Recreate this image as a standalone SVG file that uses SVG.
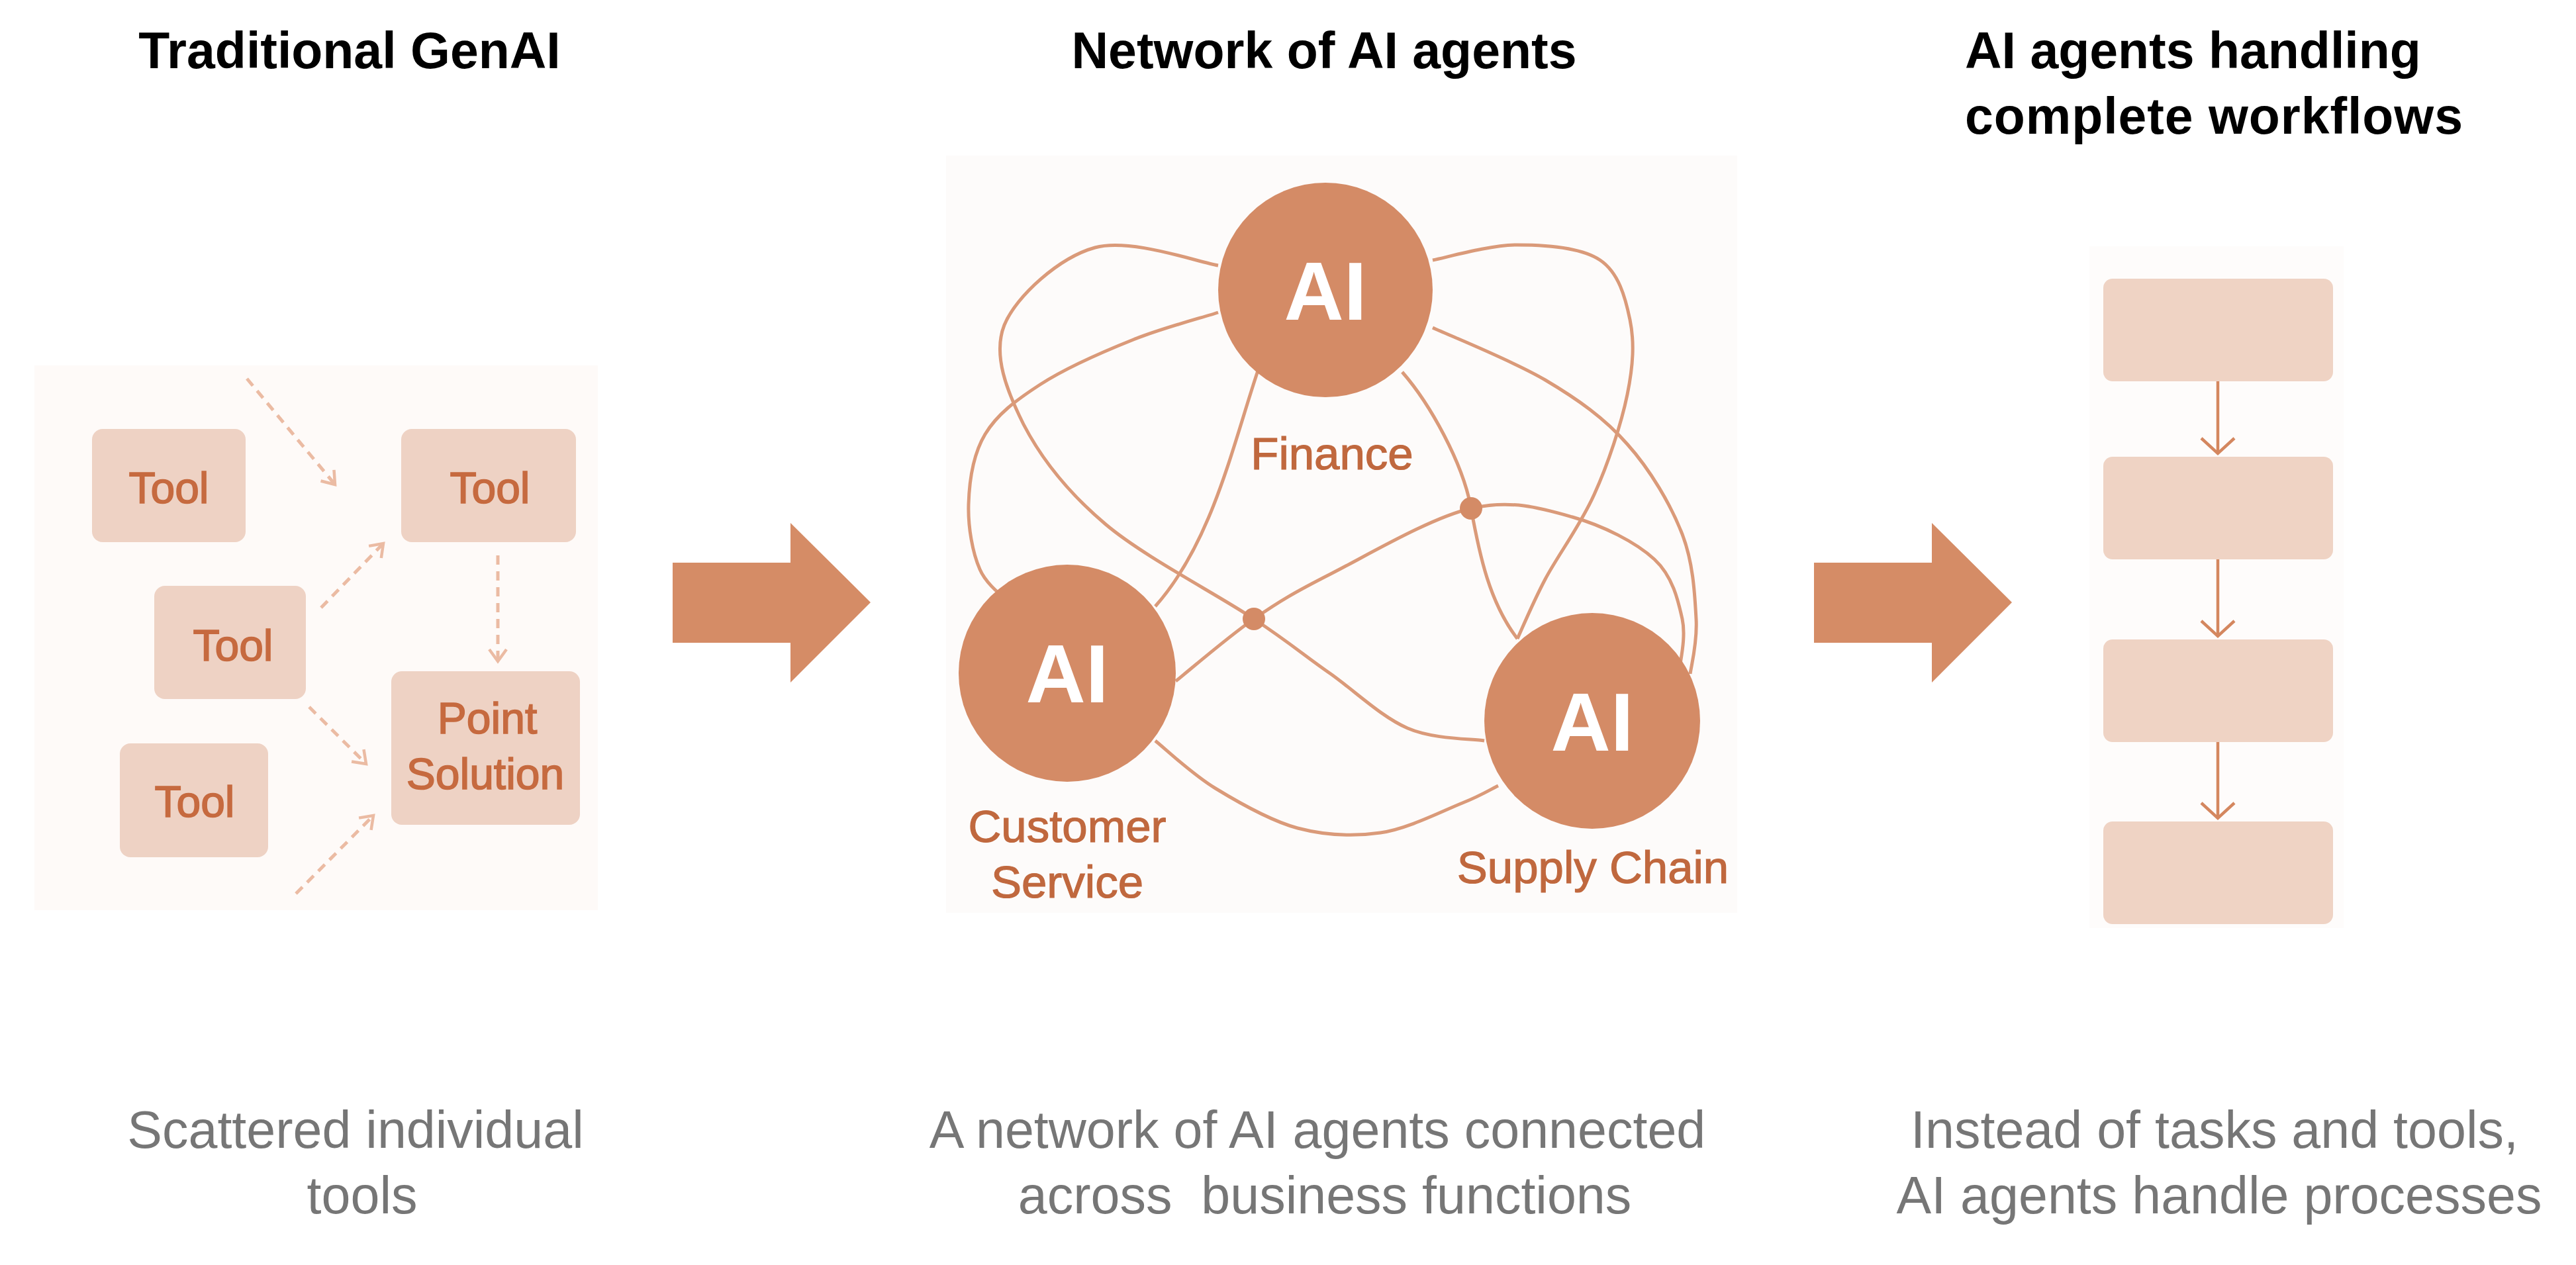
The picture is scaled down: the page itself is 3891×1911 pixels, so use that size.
<svg xmlns="http://www.w3.org/2000/svg" width="3891" height="1911" viewBox="0 0 3891 1911">
<style>
.title{font-family:"Liberation Sans",Arial,sans-serif;font-weight:bold;font-size:77px;fill:#000}
.caption{font-family:"Liberation Sans",Arial,sans-serif;font-size:79px;fill:#767676;text-anchor:middle}
.toolbox{fill:#eed2c4}
.tooltext{font-family:"Liberation Sans",Arial,sans-serif;font-size:66px;fill:#c66a3f;stroke:#c66a3f;stroke-width:1.6;text-anchor:middle}
.dash{fill:none;stroke:#ebbba3;stroke-width:5;stroke-dasharray:14 10}
.agent{fill:#d48b66}
.aitext{font-family:"Liberation Sans",Arial,sans-serif;font-weight:bold;font-size:125px;fill:#fff;text-anchor:middle}
.label{font-family:"Liberation Sans",Arial,sans-serif;font-size:69px;fill:#c0683e;stroke:#c0683e;stroke-width:1.2;text-anchor:middle}
.link{fill:none;stroke:#da9a79;stroke-width:5}
.bigarrow{fill:#d58c66}
.step{fill:#efd3c4}
.flow{fill:none;stroke:#d4875f;stroke-width:4.5}
</style>
<defs>
<marker id="dchev" viewBox="-24 -18 28 36" refX="0" refY="0" markerWidth="28" markerHeight="36" markerUnits="userSpaceOnUse" orient="auto">
<path d="M-18,-13 L0,0 L-18,13" fill="none" stroke="#ebbba3" stroke-width="4.5"/>
</marker>
<marker id="fchev" viewBox="-30 -30 34 60" refX="0" refY="0" markerWidth="34" markerHeight="60" markerUnits="userSpaceOnUse" orient="auto">
<path d="M-23,-25 L0,0 L-23,25" fill="none" stroke="#d4875f" stroke-width="4.5"/>
</marker>
</defs>
<rect width="3891" height="1911" fill="#fff"/>

<g id="titles">
<text class="title" x="528" y="103" text-anchor="middle">Traditional GenAI</text>
<text class="title" x="2000" y="103" text-anchor="middle">Network of AI agents</text>
<text class="title" x="2968" y="103">AI agents handling</text>
<text class="title" x="2968" y="202" textLength="752">complete workflows</text>
</g>

<g id="panel-traditional">
<rect x="52" y="552" width="851" height="823" fill="#fefaf8"/>
<g id="tool1"><rect class="toolbox" x="139" y="648" width="232" height="171" rx="16"/><text class="tooltext" x="255" y="760">Tool</text></g>
<g id="tool2"><rect class="toolbox" x="606" y="648" width="264" height="171" rx="16"/><text class="tooltext" x="740" y="760">Tool</text></g>
<g id="tool3"><rect class="toolbox" x="233" y="885" width="229" height="171" rx="16"/><text class="tooltext" x="352" y="998">Tool</text></g>
<g id="tool4"><rect class="toolbox" x="181" y="1123" width="224" height="172" rx="16"/><text class="tooltext" x="294" y="1234">Tool</text></g>
<g id="point-solution"><rect class="toolbox" x="591" y="1014" width="285" height="232" rx="16"/><text class="tooltext" x="736" y="1108">Point</text><text class="tooltext" x="733" y="1192">Solution</text></g>
<g id="dashed-connectors">
<line class="dash" x1="373" y1="572" x2="506" y2="732" marker-end="url(#dchev)"/>
<line class="dash" x1="485" y1="918" x2="579" y2="821" marker-end="url(#dchev)"/>
<line class="dash" x1="752" y1="839" x2="752" y2="999" marker-end="url(#dchev)"/>
<line class="dash" x1="467" y1="1068" x2="553" y2="1154" marker-end="url(#dchev)"/>
<line class="dash" x1="447" y1="1350" x2="564" y2="1232" marker-end="url(#dchev)"/>
</g>
</g>

<g id="big-arrows">
<path class="bigarrow" d="M1016,850 H1194 V790 L1315,910 L1194,1031 V971 H1016 Z"/>
<path class="bigarrow" d="M2740,850 H2918 V790 L3039,910 L2918,1031 V971 H2740 Z"/>
</g>

<g id="panel-network">
<rect x="1429" y="235" width="1195" height="1144" fill="#fdfbfa"/>
<g id="network-links">
<path class="link" d="M1840,401 C1809,396 1708,359 1654,374 C1600,389 1535,447 1517,491 C1499,536 1521,591 1546,641 C1572,691 1612,743 1670,792 C1728,841 1837,897 1894,935 C1951,973 1971,991 2010,1018 C2049,1046 2087,1083 2126,1100 C2165,1117 2223,1116 2242,1119"/>
<path class="link" d="M1840,472 C1819,479 1757,495 1712,513 C1667,531 1608,557 1571,581 C1534,605 1506,626 1488,656 C1470,686 1464,728 1463,762 C1462,796 1469,835 1480,860 C1491,886 1522,906 1530,915"/>
<path class="link" d="M1900,560 C1860,680 1830,820 1745,916"/>
<path class="link" d="M1776,1029 C1796,1013 1855,962 1894,935 C1933,908 1955,895 2010,867 C2065,839 2161,782 2222,768 C2283,754 2329,768 2375,781 C2421,794 2471,819 2499,845 C2527,871 2535,908 2541,935 C2547,963 2538,998 2537,1010"/>
<path class="link" d="M2118,562 C2160,610 2210,700 2222,768 C2235,840 2250,910 2292,965"/>
<path class="link" d="M2164,495 C2192,508 2285,545 2334,574 C2383,603 2424,632 2458,671 C2493,710 2524,763 2541,807 C2558,851 2560,900 2562,935 C2564,970 2555,1004 2553,1018"/>
<path class="link" d="M2164,393 C2185,389 2250,370 2292,370 C2334,370 2389,374 2417,393 C2445,412 2455,449 2462,483 C2469,517 2467,552 2458,596 C2449,640 2429,701 2408,747 C2387,794 2353,839 2334,875 C2315,911 2299,950 2292,965"/>
<path class="link" d="M1745,1119 C1760,1131 1800,1169 1836,1191 C1872,1213 1919,1240 1960,1251 C2002,1262 2044,1264 2085,1258 C2127,1252 2179,1225 2209,1213 C2239,1201 2254,1191 2263,1187"/>
<circle class="agent" cx="2222" cy="768" r="17"/>
<circle class="agent" cx="1894" cy="935" r="17"/>
</g>
<g id="agent-finance"><circle class="agent" cx="2002" cy="438" r="162"/><text class="aitext" x="2002" y="483">AI</text><text class="label" x="2012" y="709">Finance</text></g>
<g id="agent-customer"><circle class="agent" cx="1612" cy="1017" r="164"/><text class="aitext" x="1612" y="1061">AI</text><text class="label" x="1612" y="1272">Customer</text><text class="label" x="1612" y="1356">Service</text></g>
<g id="agent-supply"><circle class="agent" cx="2405" cy="1089" r="163"/><text class="aitext" x="2405" y="1134">AI</text><text class="label" x="2406" y="1334">Supply Chain</text></g>
</g>

<g id="panel-workflow">
<rect x="3156" y="372" width="384" height="1030" fill="#fefcfb"/>
<g id="step1"><rect class="step" x="3177" y="421" width="347" height="155" rx="14"/></g>
<g id="step2"><rect class="step" x="3177" y="690" width="347" height="155" rx="14"/></g>
<g id="step3"><rect class="step" x="3177" y="966" width="347" height="155" rx="14"/></g>
<g id="step4"><rect class="step" x="3177" y="1241" width="347" height="155" rx="14"/></g>
<g id="flow-connectors">
<line class="flow" x1="3350" y1="576" x2="3350" y2="685" marker-end="url(#fchev)"/>
<line class="flow" x1="3350" y1="845" x2="3350" y2="961" marker-end="url(#fchev)"/>
<line class="flow" x1="3350" y1="1121" x2="3350" y2="1236" marker-end="url(#fchev)"/>
</g>
</g>

<g id="captions">
<text class="caption" x="537" y="1734">Scattered individual</text>
<text class="caption" x="547" y="1833">tools</text>
<text class="caption" x="1990" y="1734">A network of AI agents connected</text>
<text class="caption" x="2001" y="1833" xml:space="preserve">across  business functions</text>
<text class="caption" x="3345" y="1734">Instead of tasks and tools,</text>
<text class="caption" x="3352" y="1833">AI agents handle processes</text>
</g>
</svg>
